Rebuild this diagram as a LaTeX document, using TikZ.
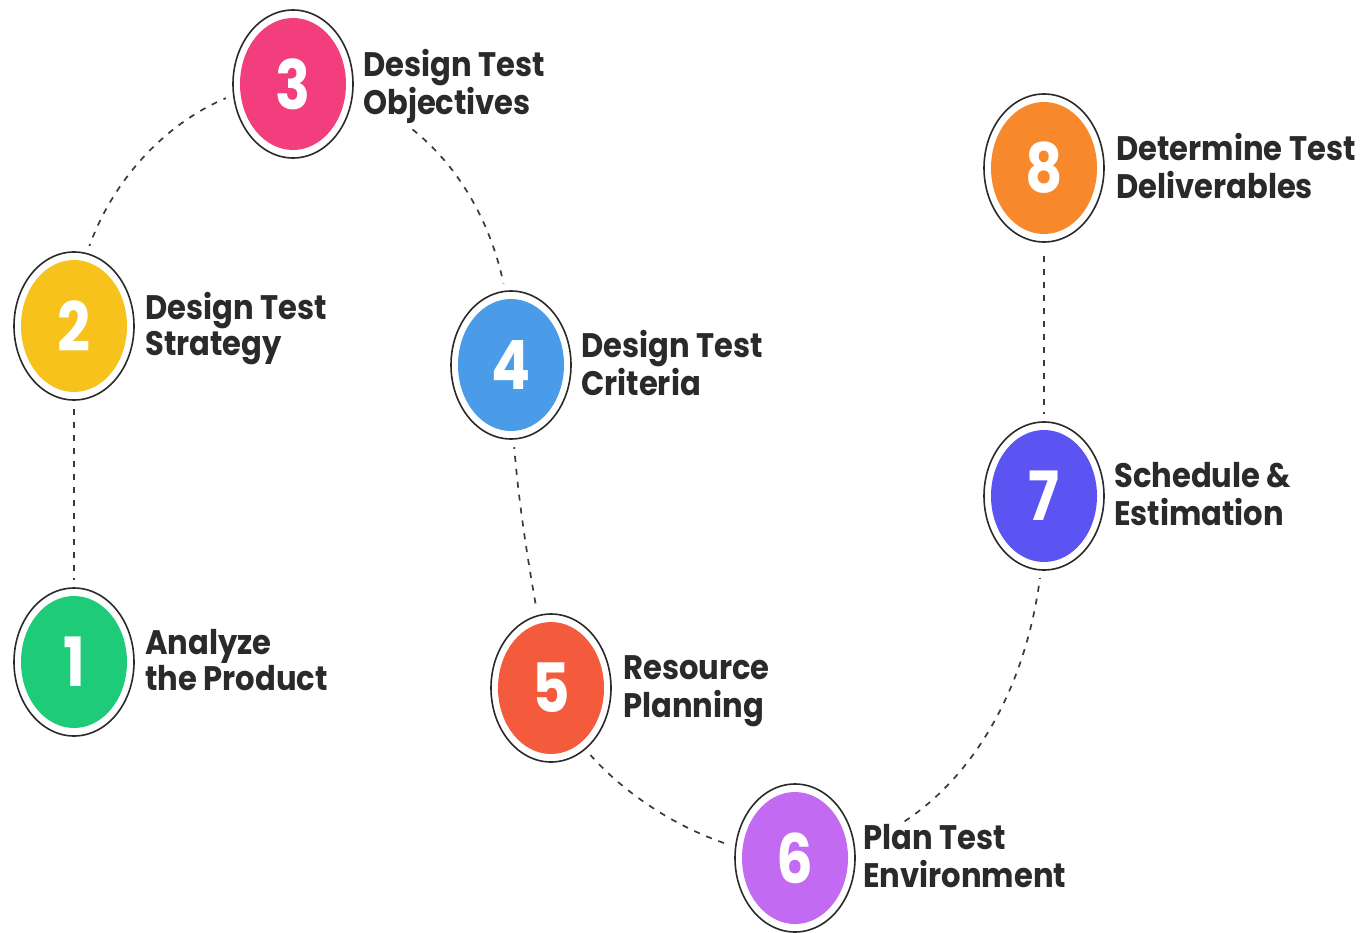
\documentclass[tikz,border=0pt]{standalone}
\usepackage{fontspec}
\setmainfont{Poppins}
\usetikzlibrary{shapes.geometric}
\pgfdeclarelayer{bg}
\pgfsetlayers{bg,main}
\definecolor{cA}{HTML}{1ECB78}
\definecolor{cB}{HTML}{F6C21B}
\definecolor{cC}{HTML}{F23E7C}
\definecolor{cD}{HTML}{4A9BE8}
\definecolor{cE}{HTML}{F45B3C}
\definecolor{cF}{HTML}{C26AF2}
\definecolor{cG}{HTML}{5C54F2}
\definecolor{cH}{HTML}{F7882C}
\definecolor{ink}{HTML}{2A2A2A}
\definecolor{dashc}{HTML}{3A3A3A}
\newcommand\sx[1]{\scalebox{0.85}[1]{#1}}
\newcommand\twol[2]{\scalebox{0.9}[1]{\begin{tabular}{@{}l@{}}#1\\#2\end{tabular}}}
\tikzset{
  ring/.style={ellipse, draw=ink, line width=1.6pt, fill=white, minimum width=120pt, minimum height=148pt, inner sep=0pt, preaction={draw=white, line width=16pt}},
  disc/.style={ellipse, minimum width=106pt, minimum height=132pt, inner sep=0pt, text=white, font=\fontsize{68}{68}\selectfont\bfseries},
  lbl/.style={anchor=west, fill=white, inner xsep=3pt, inner ysep=2pt, text=ink, font=\fontsize{34}{36}\selectfont\bfseries},
  conn/.style={draw=dashc, line width=1.7pt, dash pattern=on 6pt off 7pt},
}
\begin{document}
\begin{tikzpicture}[x=1pt,y=-1pt]
\path[use as bounding box] (0,0) rectangle (1362,933);
% rings
\node[ring] (n1) at (74,662) {};
\node[disc, fill=cA] (d1) at (n1.center) {\sx{1}};
\node[ring] (n2) at (74,326) {};
\node[disc, fill=cB] (d2) at (n2.center) {\sx{2}};
\node[ring] (n3) at (293,84) {};
\node[disc, fill=cC] (d3) at (n3.center) {\sx{3}};
\node[ring] (n4) at (511,365) {};
\node[disc, fill=cD] (d4) at (n4.center) {\sx{4}};
\node[ring] (n5) at (551,688) {};
\node[disc, fill=cE] (d5) at (n5.center) {\sx{5}};
\node[ring] (n6) at (795,858) {};
\node[disc, fill=cF] (d6) at (n6.center) {\sx{6}};
\node[ring] (n7) at (1044,496) {};
\node[disc, fill=cG] (d7) at (n7.center) {\sx{7}};
\node[ring] (n8) at (1044,168) {};
\node[disc, fill=cH] (d8) at (n8.center) {\sx{8}};
% labels
\node[lbl] (t1) at (142,665) {\twol{Analyze}{the Product}};
\node[lbl] (t2) at (142,329) {\twol{Design Test}{Strategy}};
\node[lbl] (t3) at (360,87) {\twol{Design Test}{Objectives}};
\node[lbl] (t4) at (578,368) {\twol{Design Test}{Criteria}};
\node[lbl] (t5) at (620,691) {\twol{Resource}{Planning}};
\node[lbl] (t6) at (860,861) {\twol{Plan Test}{Environment}};
\node[lbl] (t7) at (1111,499) {\twol{Schedule \&}{Estimation}};
\node[lbl] (t8) at (1113,171) {\twol{Determine Test}{Deliverables}};
% connectors
\begin{pgfonlayer}{bg}
\draw[conn] (n1.center) -- (n2.center);
\draw[conn] (n2.center) .. controls (78,190) and (190,84) .. (n3.center);
\draw[conn] (n3.center) .. controls (420,90) and (515,210) .. (n4.center);
\draw[conn] (n4.center) .. controls (510,480) and (535,600) .. (n5.center);
\draw[conn] (n5.center) .. controls (570,760) and (680,850) .. (n6.center);
\draw[conn] (n6.center) .. controls (940,850) and (1050,700) .. (n7.center);
\draw[conn] (n7.center) -- (n8.center);
\end{pgfonlayer}
\end{tikzpicture}
\end{document}
